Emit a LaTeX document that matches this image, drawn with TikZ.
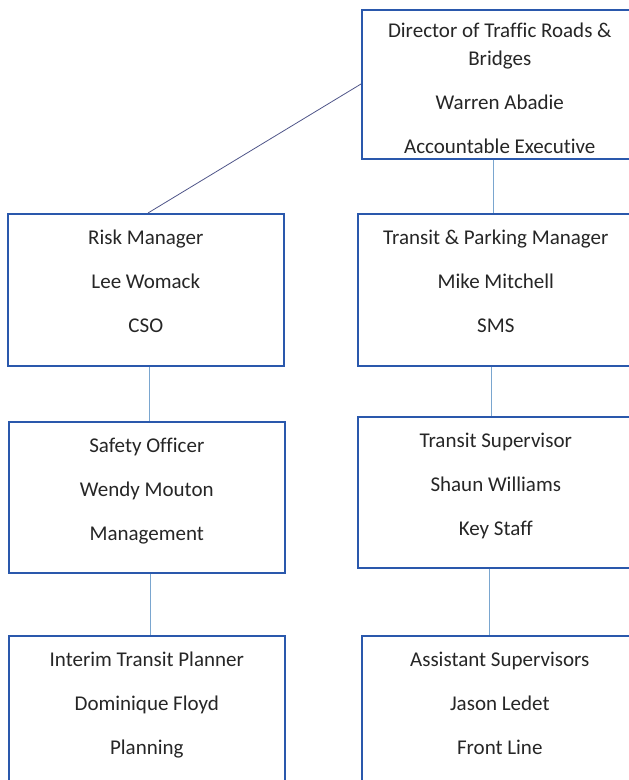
\documentclass[tikz,border=0pt]{standalone}
\usepackage{fontspec}
\setmainfont{Carlito}[RawFeature={-liga;-clig;-dlig;-calt}]
\definecolor{boxline}{HTML}{2A58AC}
\definecolor{linkline}{HTML}{7AA6CF}
\definecolor{diagline}{HTML}{4F5589}
\definecolor{txtcol}{HTML}{262626}
\tikzset{
  orgbox/.style={draw=boxline, line width=1.6pt, fill=white, anchor=north west,
    minimum width=276pt, minimum height=152pt, inner sep=0pt},
  orgtext/.style={anchor=north, inner sep=0pt, align=center, text=txtcol,
    font=\fontsize{21}{44}\selectfont},
  link/.style={draw=linkline, line width=0.8pt},
  diaglink/.style={draw=diagline, line width=0.8pt}
}
\newcommand{\firstline}{\rule{0pt}{16pt}}
\begin{document}
\begin{tikzpicture}[x=1pt, y=-1pt]
  \useasboundingbox (0,0) rectangle (629,780);
  \begin{scope}
  \clip (0,0) rectangle (629,780);
  % boxes
  \node[orgbox, minimum height=149pt] (dir) at (361,9) {};
  \node[orgbox] (risk) at (7,213) {};
  \node[orgbox] (tpm) at (357,213) {};
  \node[orgbox, minimum height=151pt] (safety) at (8,421) {};
  \node[orgbox, minimum height=151pt] (tsup) at (357,416) {};
  \node[orgbox] (itp) at (8,635) {};
  \node[orgbox] (asst) at (361,635) {};
  % connectors
  \coordinate (dirL) at (361,84);
  \coordinate (riskT) at (148,213);
  \draw[diaglink] (dirL) -- (riskT);
  \draw[link] (dir.south -| 493,0) -- (tpm.north -| 493,0);
  \draw[link] (risk.south -| 149,0) -- (safety.north -| 149,0);
  \draw[link] (tpm.south -| 491,0) -- (tsup.north -| 491,0);
  \draw[link] (safety.south -| 150,0) -- (itp.north -| 150,0);
  \draw[link] (tsup.south -| 489,0) -- (asst.north -| 489,0);
  \end{scope}
  % texts
  \node[orgtext] (dirtxt) at ([yshift=-12pt]dir.north)
    {\firstline Director of Traffic Roads \&\\[-16pt] Bridges\\ Warren Abadie\\ Accountable Executive};
  \node[orgtext] (risktxt) at ([yshift=-15pt]risk.north)
    {\firstline Risk Manager\\ Lee Womack\\ CSO};
  \node[orgtext] (tpmtxt) at ([yshift=-15pt]tpm.north)
    {\firstline Transit \& Parking Manager\\ Mike Mitchell\\ SMS};
  \node[orgtext] (safetytxt) at ([yshift=-15pt]safety.north)
    {\firstline Safety Officer\\ Wendy Mouton\\ Management};
  \node[orgtext] (tsuptxt) at ([yshift=-15pt]tsup.north)
    {\firstline Transit Supervisor\\ Shaun Williams\\ Key Staff};
  \node[orgtext] (itptxt) at ([yshift=-15pt]itp.north)
    {\firstline Interim Transit Planner\\ Dominique Floyd\\ Planning};
  \node[orgtext] (assttxt) at ([yshift=-15pt]asst.north)
    {\firstline Assistant Supervisors\\ Jason Ledet\\ Front Line};
\end{tikzpicture}
\end{document}
